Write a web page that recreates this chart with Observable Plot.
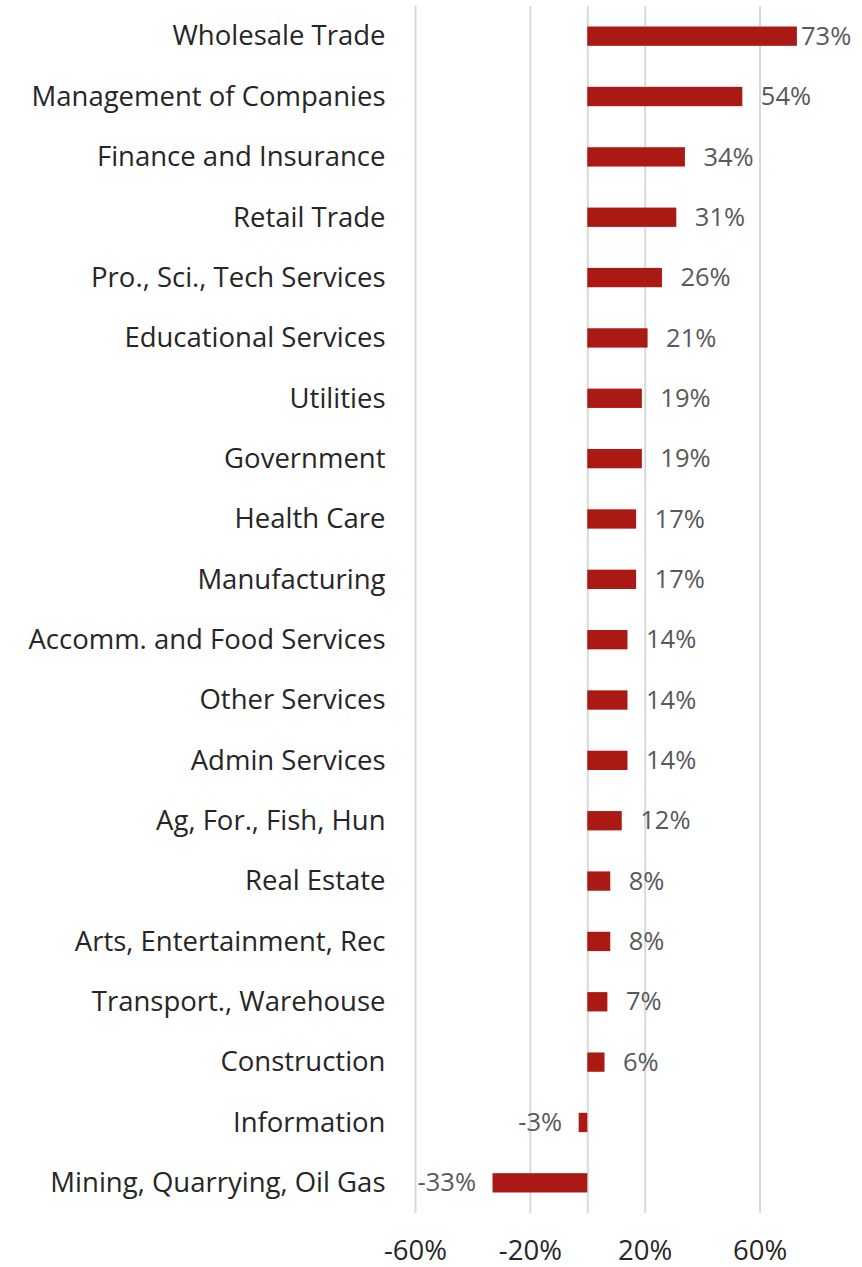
<!DOCTYPE html>
<html>
<head>
<meta charset="utf-8">
<script src="https://cdn.jsdelivr.net/npm/d3@7"></script>
<script src="https://cdn.jsdelivr.net/npm/@observablehq/plot@0.6"></script>
<style>
  html, body { margin: 0; padding: 0; background: #fff; }
  #chart svg { display: block; }
</style>
</head>
<body>
<div id="chart"></div>
<script>
const categories = [
  "Wholesale Trade",
  "Management of Companies",
  "Finance and Insurance",
  "Retail Trade",
  "Pro., Sci., Tech Services",
  "Educational Services",
  "Utilities",
  "Government",
  "Health Care",
  "Manufacturing",
  "Accomm. and Food Services",
  "Other Services",
  "Admin Services",
  "Ag, For., Fish, Hun",
  "Real Estate",
  "Arts, Entertainment, Rec",
  "Transport., Warehouse",
  "Construction",
  "Information",
  "Mining, Quarrying, Oil Gas"
];
const values = [73, 54, 34, 31, 26, 21, 19, 19, 17, 17, 14, 14, 14, 12, 8, 8, 7, 6, -3, -33];
const xTicks = [-60, -20, 20, 60];
const gridValues = [-60, -20, 0, 20, 60];

const data = categories.map((c, i) => ({category: c, value: values[i]}));
const fmt = v => `${v}%`;

const chart = Plot.plot({
  width: 862,
  height: 1267,
  marginTop: 6,
  marginBottom: 54,
  marginLeft: 415,
  marginRight: 45,
  style: {fontFamily: "'Open Sans', sans-serif", fontSize: "27px", color: "#262626", background: "#fff"},
  x: {domain: [-60, 80], ticks: xTicks, tickFormat: fmt, label: null},
  y: {domain: categories, paddingInner: 0.68, paddingOuter: 0.34, round: false, label: null},
  marks: [
    Plot.ruleX(gridValues, {stroke: "#d9d9d9", strokeWidth: 2}),
    Plot.barX(data, {x: "value", y: "category", fill: "#ab1914"}),
    Plot.text(data.filter(d => d.value >= 0), {
      x: d => Math.min(d.value, 68), y: "category", text: d => fmt(d.value),
      textAnchor: "start", dx: 18, fill: "#595959", fontSize: 25.5
    }),
    Plot.text(data.filter(d => d.value < 0), {
      x: "value", y: "category", text: d => fmt(d.value),
      textAnchor: "end", dx: -17, fill: "#595959", fontSize: 25.5
    }),
    Plot.axisY({tickSize: 0, tickPadding: 30, fontSize: 27.5, fill: "#262626"}),
    Plot.axisX(xTicks, {tickSize: 0, tickPadding: 27, tickFormat: fmt, fontSize: 27.5, fill: "#262626", label: null})
  ]
});
document.getElementById("chart").appendChild(chart);
</script>
</body>
</html>
